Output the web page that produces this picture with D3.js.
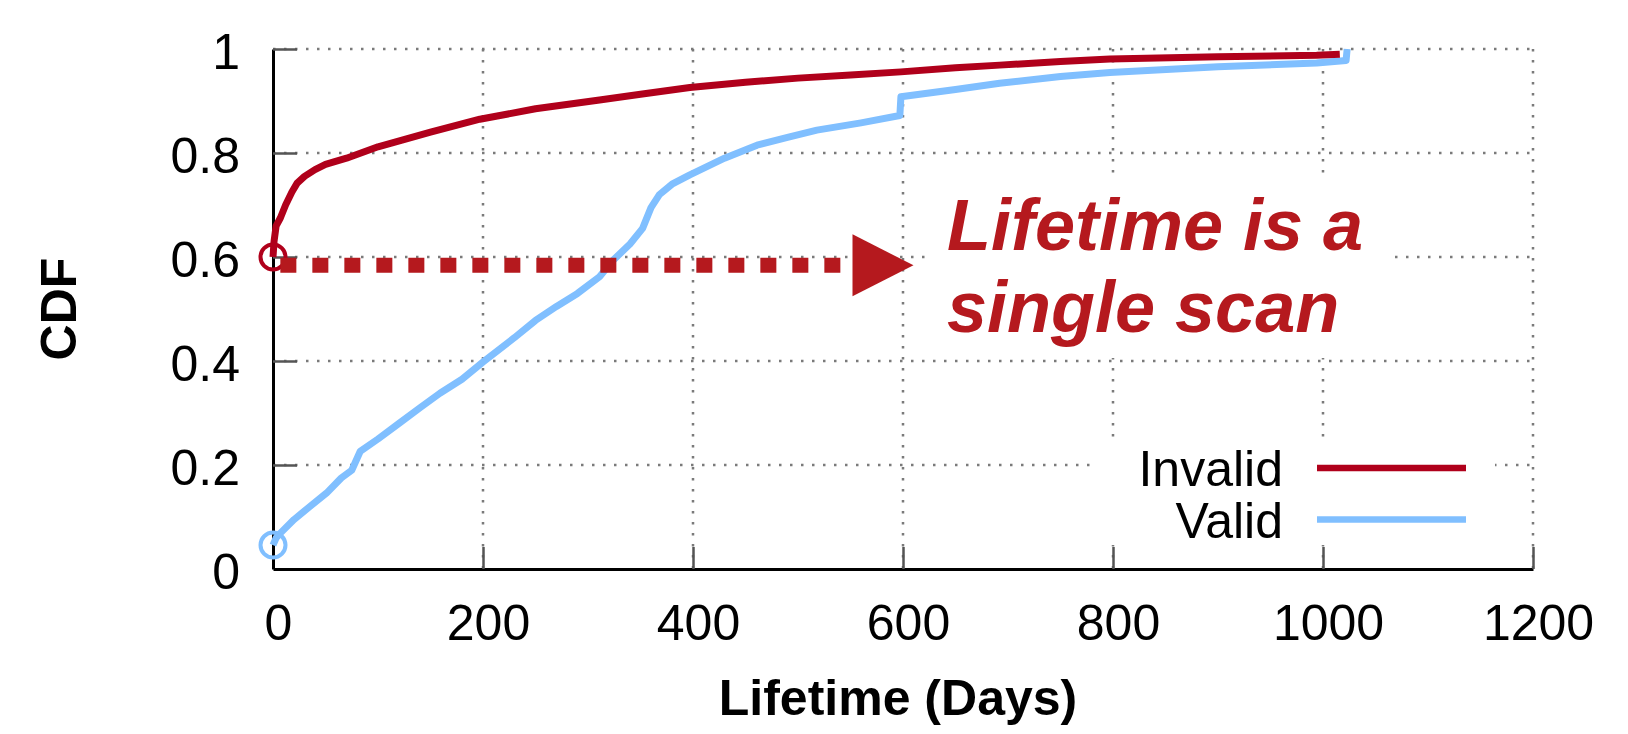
<!DOCTYPE html>
<html>
<head>
<meta charset="utf-8">
<script src="https://cdn.jsdelivr.net/npm/d3@7/dist/d3.min.js"></script>
<style>
  html, body { margin: 0; padding: 0; background: #fff; }
  svg { display: block; font-family: "Liberation Sans", Arial, Helvetica, sans-serif; }
  .grid line { stroke: #7a7a7a; stroke-width: 2.5; stroke-dasharray: 2.5 8.5; }
  .axis .domain { stroke: #000; stroke-width: 3; }
  .axis .tick line { stroke: #555; stroke-width: 2.5; }
  .axis .tick text { font-size: 50px; fill: #000; }
  .axis-title { font-size: 50px; font-weight: bold; fill: #000; }
  .legend text { font-size: 50px; fill: #000; }
  .note { font-size: 72px; font-weight: bold; font-style: italic; fill: #b5191e; }
</style>
</head>
<body>
<div id="chart"></div>
<script>
const WIDTH = 1628;
const HEIGHT = 734;
const MARGIN = { top: 49, right: 95, bottom: 165, left: 273 };
const width = WIDTH - MARGIN.left - MARGIN.right;
const height = HEIGHT - MARGIN.top - MARGIN.bottom;

// values
const invalidDays = [0, 1, 3, 7, 12, 18, 23, 30, 40, 50, 70, 100, 150, 197, 250, 311, 350, 397, 450, 500, 550, 598, 650, 692, 750, 797, 900, 994, 1016];
const invalidCdf  = [0.60, 0.63, 0.66, 0.675, 0.70, 0.725, 0.742, 0.755, 0.768, 0.778, 0.79, 0.812, 0.84, 0.865, 0.885, 0.902, 0.913, 0.926, 0.936, 0.944, 0.95, 0.956, 0.964, 0.969, 0.976, 0.981, 0.985, 0.988, 0.99];

const validDays = [0, 3, 7, 20, 35, 51, 65, 75, 83, 100, 120, 140, 159, 180, 200, 230, 250, 270, 290, 311, 324, 340, 352, 360, 368, 380, 397, 430, 461, 490, 518, 560, 597, 598, 650, 692, 750, 797, 900, 994, 1022, 1023];
const validCdf  = [0.046, 0.06, 0.069, 0.095, 0.12, 0.146, 0.175, 0.19, 0.226, 0.25, 0.28, 0.31, 0.338, 0.365, 0.398, 0.445, 0.478, 0.505, 0.53, 0.562, 0.594, 0.625, 0.655, 0.695, 0.72, 0.74, 0.758, 0.79, 0.815, 0.83, 0.844, 0.858, 0.872, 0.908, 0.922, 0.934, 0.947, 0.955, 0.966, 0.973, 0.978, 1.0];

const xTicks = [0, 200, 400, 600, 800, 1000, 1200];
const yTicks = [0, 0.2, 0.4, 0.6, 0.8, 1];
const yTickLabels = ['0', '0.2', '0.4', '0.6', '0.8', '1'];

const seriesNames = ['Invalid', 'Valid'];
const seriesColors = ['#b0001b', '#80bfff'];

// annotation: arrow from a single-scan lifetime to the note
const arrowStart = [7, 0.584];
const arrowEnd = [610, 0.584];
const noteLines = ['Lifetime is a', 'single scan'];

const $svg = d3.select('#chart').append('svg')
  .attr('width', WIDTH)
  .attr('height', HEIGHT);

const $g = $svg.append('g')
  .attr('transform', `translate(${MARGIN.left},${MARGIN.top})`);

const scaleX = d3.scaleLinear().domain([0, 1200]).range([0, width]);
const scaleY = d3.scaleLinear().domain([0, 1]).range([height, 0]);

function drawGrid() {
  const $grid = $g.append('g').attr('class', 'grid');
  $grid.selectAll('.hgrid')
    .data(yTicks.filter(d => d > 0))
    .enter().append('line')
    .attr('x1', 0).attr('x2', width)
    .attr('y1', d => scaleY(d)).attr('y2', d => scaleY(d));
  $grid.selectAll('.vgrid')
    .data(xTicks.filter(d => d > 0))
    .enter().append('line')
    .attr('x1', d => scaleX(d)).attr('x2', d => scaleX(d))
    .attr('y1', 0).attr('y2', height);

  // opaque boxes behind the note and the key
  $g.append('rect')
    .attr('x', 660).attr('y', 126)
    .attr('width', 462).attr('height', 183)
    .attr('fill', '#fff');
  $g.append('rect')
    .attr('x', 817).attr('y', 394)
    .attr('width', 405).attr('height', 102)
    .attr('fill', '#fff');
}

function drawAxes() {
  const axisX = d3.axisBottom(scaleX)
    .tickValues(xTicks)
    .tickFormat(d => String(d))
    .tickSizeInner(-22)
    .tickSizeOuter(0)
    .tickPadding(35);
  const $ax = $g.append('g')
    .attr('class', 'axis axis--x')
    .attr('transform', `translate(0,${height})`)
    .call(axisX);
  $ax.selectAll('text').attr('dx', 5).attr('dy', '0.71em');
  $ax.selectAll('.tick').filter(d => d === 0).select('line').remove();

  const axisY = d3.axisLeft(scaleY)
    .tickValues(yTicks)
    .tickFormat((d, i) => yTickLabels[i])
    .tickSizeInner(-24)
    .tickSizeOuter(0)
    .tickPadding(33);
  const $ay = $g.append('g')
    .attr('class', 'axis axis--y')
    .call(axisY);
  $ay.selectAll('text').attr('dy', '0.38em');
  $ay.selectAll('.tick').filter(d => d === 0).select('line').remove();

  $g.append('text')
    .attr('class', 'axis-title')
    .attr('x', width / 2 - 5)
    .attr('y', height + 146)
    .attr('text-anchor', 'middle')
    .text('Lifetime (Days)');

  $svg.append('text')
    .attr('class', 'axis-title')
    .attr('transform', `translate(${76},${MARGIN.top + height / 2}) rotate(-90)`)
    .attr('text-anchor', 'middle')
    .text('CDF');
}

function drawLines() {
  const line = d3.line()
    .x(d => scaleX(d[0]))
    .y(d => scaleY(d[1]));

  const series = [
    d3.zip(invalidDays, invalidCdf),
    d3.zip(validDays, validCdf)
  ];

  // valid drawn first, invalid on top
  [1, 0].forEach(i => {
    $g.append('path')
      .datum(series[i])
      .attr('fill', 'none')
      .attr('stroke', seriesColors[i])
      .attr('stroke-width', 7)
      .attr('stroke-linejoin', 'round')
      .attr('d', line);
  });

  // open circle marker on each first point
  series.forEach((s, i) => {
    $g.append('circle')
      .attr('cx', scaleX(s[0][0]))
      .attr('cy', scaleY(s[0][1]))
      .attr('r', 12.5)
      .attr('fill', 'none')
      .attr('stroke', seriesColors[i])
      .attr('stroke-width', 4);
  });
}

function drawNote() {
  const x0 = scaleX(arrowStart[0]);
  const x1 = scaleX(arrowEnd[0]);
  const y = scaleY(arrowStart[1]);
  const headLen = 61;

  $g.append('line')
    .attr('x1', x0).attr('x2', x1 - headLen - 12)
    .attr('y1', y).attr('y2', y)
    .attr('stroke', '#b5191e')
    .attr('stroke-width', 15)
    .attr('stroke-dasharray', '16 16');

  $g.append('path')
    .attr('d', `M${x1 - headLen},${y - 31}L${x1},${y}L${x1 - headLen},${y + 31}Z`)
    .attr('fill', '#b5191e');

  $g.selectAll('.note')
    .data(noteLines)
    .enter().append('text')
    .attr('class', 'note')
    .attr('x', 674)
    .attr('y', (d, i) => 201 + i * 82)
    .text(d => d);
}

function drawLegend() {
  const $legend = $g.append('g').attr('class', 'legend');
  seriesNames.forEach((name, i) => {
    const yy = 419 + i * 51.5;
    $legend.append('text')
      .attr('x', 1010)
      .attr('y', yy + 18)
      .attr('text-anchor', 'end')
      .text(name);
    $legend.append('line')
      .attr('x1', 1044).attr('x2', 1193)
      .attr('y1', yy).attr('y2', yy)
      .attr('stroke', seriesColors[i])
      .attr('stroke-width', 6.5);
  });
}

drawGrid();
drawAxes();
drawLines();
drawNote();
drawLegend();
</script>
</body>
</html>
